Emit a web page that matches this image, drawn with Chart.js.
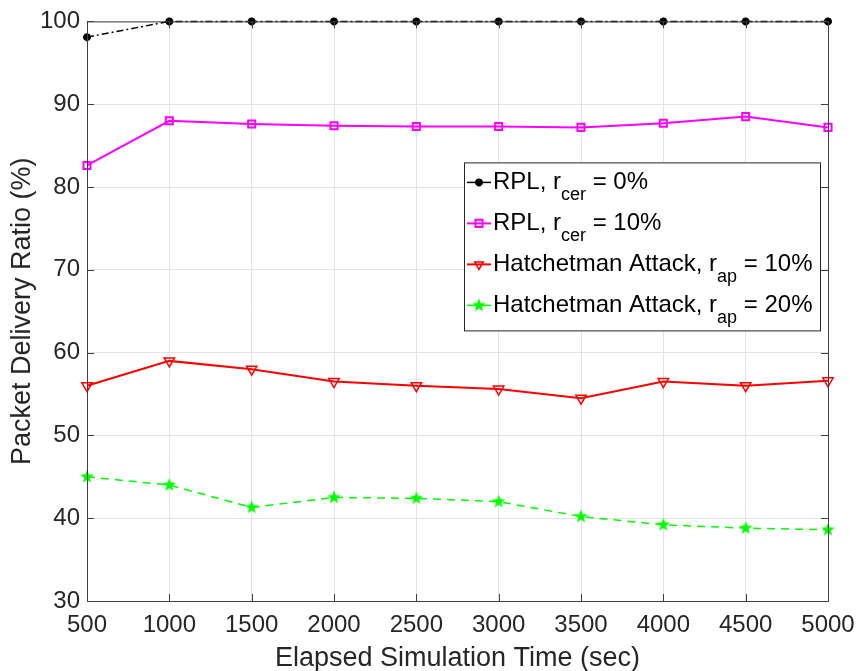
<!DOCTYPE html>
<html>
<head>
<meta charset="utf-8">
<script src="https://cdn.jsdelivr.net/npm/chart.js@4/dist/chart.umd.min.js"></script>
<style>
  html, body { margin: 0; padding: 0; background: #fff; }
  #wrap { width: 861px; height: 671px; }
</style>
</head>
<body>
<div id="wrap"><canvas id="mycanvas" width="861" height="671"></canvas></div>
<script>
// data
var times = [500, 1000, 1500, 2000, 2500, 3000, 3500, 4000, 4500, 5000];
var rplCer0 = [98.1, 100, 100, 100, 100, 100, 100, 100, 100, 100];
var rplCer10 = [82.6, 88.0, 87.6, 87.4, 87.3, 87.3, 87.2, 87.7, 88.5, 87.2];
var hatchet10 = [56.0, 59.0, 58.0, 56.5, 56.0, 55.6, 54.5, 56.5, 56.0, 56.6];
var hatchet20 = [45.0, 44.0, 41.3, 42.5, 42.4, 42.0, 40.2, 39.2, 38.8, 38.6];

var xTicks = [500, 1000, 1500, 2000, 2500, 3000, 3500, 4000, 4500, 5000];
var yTicks = [30, 40, 50, 60, 70, 80, 90, 100];

// legend pieces: main text, subscript, rest
var legendText = [
  ["RPL, r", "cer", " = 0%"],
  ["RPL, r", "cer", " = 10%"],
  ["Hatchetman Attack, r", "ap", " = 10%"],
  ["Hatchetman Attack, r", "ap", " = 20%"]
];

var FONT = "'Liberation Sans', Arial, sans-serif";
var TXT = "#262626";

// filled five point star for the green series
function pentagram(color, r) {
  var c = document.createElement("canvas");
  c.width = c.height = 2 * r + 2;
  var g = c.getContext("2d");
  var cx = r + 1, cy = r + 1;
  g.beginPath();
  for (var i = 0; i < 10; i++) {
    var rr = i % 2 === 0 ? r : r * 0.42;
    var a = -Math.PI / 2 + i * Math.PI / 5;
    g.lineTo(cx + rr * Math.cos(a), cy + rr * Math.sin(a));
  }
  g.closePath();
  g.fillStyle = color;
  g.fill();
  return c;
}
var greenStar = pentagram("#00ff00", 7);

function pts(xs, ys) {
  var out = [];
  for (var i in xs) out.push({ x: xs[i], y: ys[i] });
  return out;
}

var chartdata = {
  datasets: [
    {
      label: "RPL, r_cer = 0%",
      data: pts(times, rplCer0),
      borderColor: "#000000",
      backgroundColor: "#000000",
      borderWidth: 1.5,
      borderDash: [7, 3, 2, 3],
      pointStyle: "star",
      pointRadius: 4,
      pointBorderWidth: 2.5,
      lineTension: 0,
      clip: false
    },
    {
      label: "RPL, r_cer = 10%",
      data: pts(times, rplCer10),
      borderColor: "#ff00ff",
      backgroundColor: "rgba(0,0,0,0)",
      borderWidth: 2,
      pointStyle: "rect",
      pointRadius: 5,
      pointBorderWidth: 2,
      lineTension: 0,
      clip: false
    },
    {
      label: "Hatchetman Attack, r_ap = 10%",
      data: pts(times, hatchet10),
      borderColor: "#ff0000",
      backgroundColor: "rgba(0,0,0,0)",
      borderWidth: 2,
      pointStyle: "triangle",
      pointRotation: 180,
      pointRadius: 6,
      pointBorderWidth: 1.5,
      lineTension: 0,
      clip: false
    },
    {
      label: "Hatchetman Attack, r_ap = 20%",
      data: pts(times, hatchet20),
      borderColor: "#00ff00",
      backgroundColor: "#00ff00",
      borderWidth: 1.5,
      borderDash: [8, 6],
      pointStyle: greenStar,
      pointRadius: 7,
      lineTension: 0,
      clip: false
    }
  ]
};

// box, inward ticks and the legend with subscripts
var matlabLook = {
  id: "matlabLook",
  afterDraw: function(chart) {
    var ctx = chart.ctx, a = chart.chartArea;
    var xs = chart.scales.x, ys = chart.scales.y;
    ctx.save();
    ctx.strokeStyle = "#404040";
    ctx.lineWidth = 1;
    ctx.strokeRect(a.left + 0.5, a.top + 0.5, a.right - a.left, a.bottom - a.top);
    ctx.beginPath();
    xTicks.forEach(function(v) {
      var px = Math.round(xs.getPixelForValue(v)) + 0.5;
      ctx.moveTo(px, a.bottom); ctx.lineTo(px, a.bottom - 7);
      ctx.moveTo(px, a.top); ctx.lineTo(px, a.top + 7);
    });
    yTicks.forEach(function(v) {
      var py = Math.round(ys.getPixelForValue(v)) + 0.5;
      ctx.moveTo(a.left, py); ctx.lineTo(a.left + 7, py);
      ctx.moveTo(a.right, py); ctx.lineTo(a.right - 7, py);
    });
    ctx.stroke();

    // legend
    var bx = a.left + 377, by = a.top + 141, bw = 356, bh = 168;
    ctx.fillStyle = "#fff";
    ctx.fillRect(bx, by, bw, bh);
    ctx.strokeStyle = "#262626";
    ctx.strokeRect(bx + 0.5, by + 0.5, bw, bh);
    chart.data.datasets.forEach(function(ds, i) {
      var cy = by + 20 + i * 41;
      ctx.save();
      ctx.strokeStyle = ds.borderColor;
      ctx.fillStyle = ds.backgroundColor;
      ctx.lineWidth = ds.borderWidth;
      ctx.setLineDash([]);
      ctx.beginPath();
      ctx.moveTo(bx + 3, cy); ctx.lineTo(bx + 27, cy);
      ctx.stroke();
      ctx.lineWidth = ds.pointBorderWidth || 1;
      Chart.helpers.drawPoint(ctx, {
        pointStyle: ds.pointStyle,
        rotation: ds.pointRotation || 0,
        radius: Math.min(ds.pointRadius, 5),
        borderWidth: ds.pointBorderWidth || 1
      }, bx + 15, cy);
      ctx.restore();

      var t = legendText[i];
      var tx = bx + 29;
      ctx.fillStyle = "#000";
      ctx.textBaseline = "middle";
      ctx.textAlign = "left";
      ctx.font = "24px " + FONT;
      ctx.fillText(t[0], tx, cy);
      tx += ctx.measureText(t[0]).width;
      ctx.font = "18px " + FONT;
      ctx.fillText(t[1], tx, cy + 13);
      tx += ctx.measureText(t[1]).width;
      ctx.font = "24px " + FONT;
      ctx.fillText(t[2], tx, cy);
    });
    ctx.restore();
  }
};

var ctx = document.getElementById("mycanvas");
var LineGraph = new Chart(ctx, {
  type: "line",
  data: chartdata,
  plugins: [matlabLook],
  options: {
    responsive: false,
    animation: false,
    layout: { padding: { top: 21, right: 33, left: 0, bottom: 0 } },
    plugins: { legend: { display: false }, tooltip: { enabled: false } },
    scales: {
      x: {
        type: "linear",
        min: 500, max: 5000,
        afterBuildTicks: function(s) { s.ticks = xTicks.map(function(v) { return { value: v }; }); },
        afterFit: function(s) { s.height = 70; s.paddingLeft = 0; s.paddingRight = 0; },
        grid: { color: "#e3e3e3", drawTicks: false },
        border: { color: "#404040" },
        ticks: { color: TXT, font: { family: FONT, size: 24 }, padding: 10, maxRotation: 0,
                 callback: function(v) { return String(v); } },
        title: { display: true, text: "Elapsed Simulation Time (sec)", color: TXT,
                 font: { family: FONT, size: 27 }, padding: { top: 0, bottom: -4 } }
      },
      y: {
        min: 30, max: 100,
        afterBuildTicks: function(s) { s.ticks = yTicks.map(function(v) { return { value: v }; }); },
        afterFit: function(s) { s.width = 87; },
        grid: { color: "#e3e3e3", drawTicks: false },
        border: { color: "#404040" },
        ticks: { color: TXT, font: { family: FONT, size: 24 }, padding: 7,
                 callback: function(v) { return String(v); } },
        title: { display: true, text: "Packet Delivery Ratio (%)", color: TXT,
                 font: { family: FONT, size: 27 }, padding: { top: 6, bottom: 0 } }
      }
    }
  }
});
</script>
</body>
</html>
